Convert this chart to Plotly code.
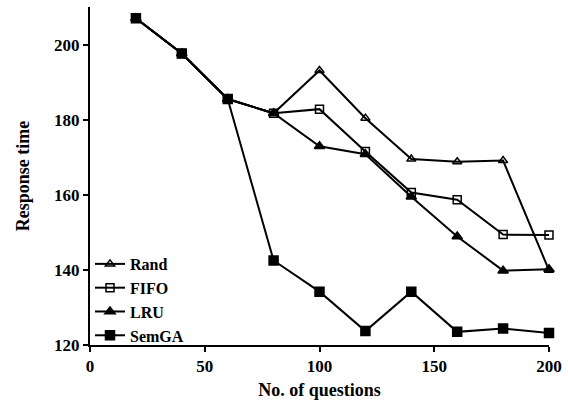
import plotly.graph_objects as go

x = [20, 40, 60, 80, 100, 120, 140, 160, 180, 200]
rand = [207, 197.6, 185.5, 181.7, 193.1, 180.4, 169.5, 168.8, 169.1, 139.9]
fifo = [207, 197.6, 185.5, 181.7, 182.8, 171.5, 160.6, 158.7, 149.4, 149.3]
lru = [207, 197.6, 185.5, 181.7, 172.9, 170.8, 159.5, 148.9, 139.8, 140.2]
semga = [207, 197.6, 185.5, 142.5, 134.2, 123.7, 134.2, 123.5, 124.4, 123.2]

series = [
    ("Rand", rand, "triangle-up-open"),
    ("FIFO", fifo, "square-open"),
    ("LRU", lru, "triangle-up"),
    ("SemGA", semga, "square"),
]

FAM = "Liberation Serif"

fig = go.Figure()
for name, ys, sym in series:
    fig.add_trace(go.Scatter(
        x=x, y=ys, name=name, mode="lines+markers",
        line=dict(color="black", width=2),
        marker=dict(symbol=sym, size=8 if "open" in sym else 9, color="black",
                    line=dict(color="black", width=1.5)),
        cliponaxis=False,
    ))

fig.update_layout(
    width=568, height=406,
    margin=dict(l=90, r=19, t=7, b=61),
    paper_bgcolor="white", plot_bgcolor="white",
    font=dict(family=FAM, size=17, color="black"),
    showlegend=True,
    legend=dict(x=0.0, y=0.29, xanchor="left", yanchor="top",
                bgcolor="rgba(0,0,0,0)",
                font=dict(size=16, family=FAM, weight="bold", color="black"),
                itemwidth=30, tracegroupgap=0),
)
fig.update_xaxes(
    range=[0, 200], tickvals=[0, 50, 100, 150, 200],
    showline=True, linecolor="black", linewidth=2,
    ticks="outside", ticklen=5, tickwidth=2, tickcolor="black",
    showgrid=False, zeroline=False,
    title=dict(text="No. of questions",
               font=dict(size=18, family=FAM, weight="bold", color="black"), standoff=8),
    tickfont=dict(size=17, family=FAM, weight="bold", color="black"),
)
fig.update_yaxes(
    range=[120, 210], tickvals=[120, 140, 160, 180, 200],
    showline=True, linecolor="black", linewidth=2,
    ticks="outside", ticklen=5, tickwidth=2, tickcolor="black",
    showgrid=False, zeroline=False,
    title=dict(text="Response time",
               font=dict(size=18, family=FAM, weight="bold", color="black"), standoff=20),
    tickfont=dict(size=17, family=FAM, weight="bold", color="black"),
)
fig.write_html("out.html")
